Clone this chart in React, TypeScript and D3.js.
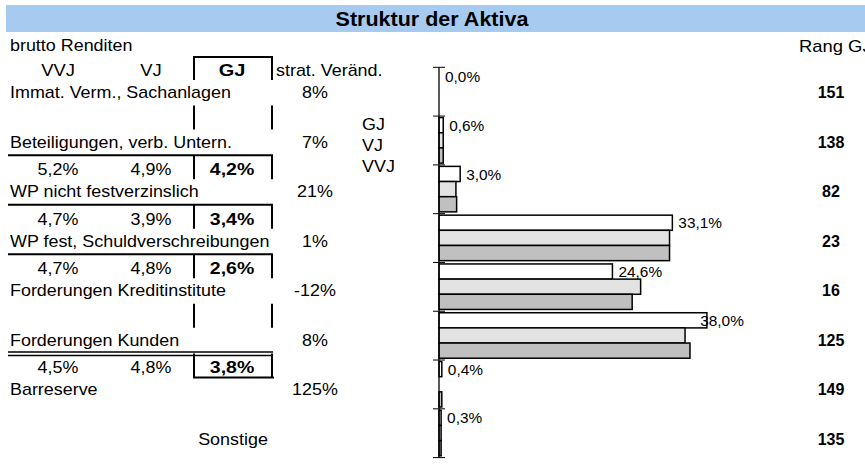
import React from 'react';
import * as d3 from 'd3';

// chart data
const categories = [
  'Immat. Verm., Sachanlagen',
  'Beteiligungen, verb. Untern.',
  'WP nicht festverzinslich',
  'WP fest, Schuldverschreibungen',
  'Forderungen Kreditinstitute',
  'Forderungen Kunden',
  'Barreserve',
  'Sonstige',
];
const seriesNames = ['GJ', 'VJ', 'VVJ'];
const shareGJ = [0.0, 0.6, 3.0, 33.1, 24.6, 38.0, 0.4, 0.3];
const shareVJ = [0.0, 0.6, 2.4, 32.7, 28.6, 34.9, 0.0, 0.3];
const shareVVJ = [0.0, 0.6, 2.5, 32.7, 27.4, 35.6, 0.4, 0.3];
const stratChange = ['8%', '7%', '21%', '1%', '-12%', '8%', '125%', null];
const rangGJ = [151, 138, 82, 23, 16, 125, 149, 135];
// brutto Renditen, shown in the row above each category
const yieldVVJ = [null, null, 5.2, 4.7, 4.7, null, 4.5, null];
const yieldVJ = [null, null, 4.9, 3.9, 4.8, null, 4.8, null];
const yieldGJ = [null, null, 4.2, 3.4, 2.6, null, 3.8, null];
const headerCols = ['VVJ', 'VJ', 'GJ'];

// table borders above each category row
const separators = [null, null, 'single', 'single', 'single', null, 'double', null];

const W = 865;
const H = 469;
const FONT = '"Liberation Sans", Arial, sans-serif';
const fills = { GJ: '#ffffff', VJ: '#e3e3e3', VVJ: '#c0c0c0' };

const de = d3.formatLocale({ decimal: ',', thousands: '.', grouping: [3], currency: ['', ' €'] });
const pct = (v) => de.format('.1f')(v) + '%';

const T = ({ x, y, size = 16, sx = 1.12, anchor = 'start', bold = false, children }) => (
  <text
    transform={`translate(${x},${y}) scale(${sx},1)`}
    fontSize={size}
    textAnchor={anchor}
    fontWeight={bold ? 'bold' : 'normal'}
    fill="#000"
  >
    {children}
  </text>
);

const App = () => {
  // table rows
  const yRow = d3.scaleLinear().domain([0, categories.length - 1]).range([98, 445]);
  const colX = d3.scaleOrdinal().domain(headerCols).range([58, 151, 232]);
  const gjLeft = 194;
  const gjRight = 272;
  const tableLeft = 8;

  // bar chart
  const x = d3.scaleLinear().domain([0, 60]).range([439, 862]);
  const y = d3.scaleBand().domain(categories).range([67.3, 457.6]);
  const yInner = d3.scaleBand().domain(seriesNames).range([1.5, y.bandwidth() - 1.8]);
  const legendY = d3.scaleLinear().domain([0, seriesNames.length - 1]).range([130, 172]);
  const labelCap = 36.2;

  const series = { GJ: shareGJ, VJ: shareVJ, VVJ: shareVVJ };
  const tickYs = d3.range(categories.length + 1).map(i => y.range()[0] + i * y.step());

  return (
    <svg width={W} height={H} style={{ position: 'absolute', left: 0, top: 0 }} fontFamily={FONT}>
      <rect x={0} y={0} width={W} height={H} fill="#fff" />
      {/* title */}
      <rect x={6} y={5} width={W - 6} height={27} fill="#a6caf0" />
      <T x={432} y={26} size={20.5} sx={1.05} anchor="middle" bold>Struktur der Aktiva</T>
      <T x={10} y={51}>brutto Renditen</T>
      <T x={799} y={52} sx={1.15}>Rang GJ</T>

      {/* header row */}
      {headerCols.map(c => (
        <T key={c} x={colX(c)} y={yRow(0) - 22} anchor="middle" bold={c === 'GJ'} sx={c === 'GJ' ? 1.25 : 1.15}>{c}</T>
      ))}
      <T x={276} y={yRow(0) - 22}>strat. Veränd.</T>
      <line x1={gjLeft - 1} x2={gjRight + 1} y1={yRow(0) - 41} y2={yRow(0) - 41} stroke="#000" strokeWidth={2} />

      {/* GJ column box, one segment per row above a category */}
      {categories.slice(0, 7).map((c, i) => (
        <g key={'box' + i} stroke="#000" strokeWidth={2}>
          <line x1={gjLeft} x2={gjLeft} y1={yRow(i) - 42} y2={yRow(i) - 18} />
          <line x1={gjRight} x2={gjRight} y1={yRow(i) - 42} y2={yRow(i) - 18} />
        </g>
      ))}
      <line x1={gjLeft - 1} x2={gjRight + 2} y1={yRow(6) - 18} y2={yRow(6) - 18} stroke="#000" strokeWidth={2} />

      {/* separators */}
      {separators.map((s, i) => {
        if (!s) return null;
        const yy = yRow(i) - 42;
        if (s === 'double') {
          return (
            <g key={'sep' + i} stroke="#000" strokeWidth={1.4}>
              <line x1={tableLeft} x2={gjRight + 1} y1={yy - 1.5} y2={yy - 1.5} />
              <line x1={tableLeft} x2={gjRight + 1} y1={yy + 2} y2={yy + 2} />
            </g>
          );
        }
        return <line key={'sep' + i} x1={tableLeft} x2={gjRight + 1} y1={yy} y2={yy} stroke="#000" strokeWidth={2} />;
      })}

      {/* yields */}
      {categories.map((c, i) => (
        yieldGJ[i] == null ? null : (
          <g key={'yl' + i}>
            <T x={colX('VVJ')} y={yRow(i) - 22} anchor="middle">{pct(yieldVVJ[i])}</T>
            <T x={colX('VJ')} y={yRow(i) - 22} anchor="middle">{pct(yieldVJ[i])}</T>
            <T x={colX('GJ')} y={yRow(i) - 22} anchor="middle" bold sx={1.22}>{pct(yieldGJ[i])}</T>
          </g>
        )
      ))}

      {/* category names, strat. change, rank */}
      {categories.map((c, i) => (
        <g key={'nm' + i}>
          {i === categories.length - 1
            ? <T x={233} y={yRow(i)} anchor="middle">{c}</T>
            : <T x={10} y={yRow(i)}>{c}</T>}
          {stratChange[i] && <T x={315} y={yRow(i)} anchor="middle">{stratChange[i]}</T>}
          <T x={831} y={yRow(i)} anchor="middle" bold size={16} sx={1.0}>{rangGJ[i]}</T>
        </g>
      ))}

      {/* legend */}
      {seriesNames.map((s, k) => (
        <T key={'lg' + s} x={362} y={legendY(k)}>{s}</T>
      ))}

      {/* bars */}
      {categories.map((c, i) => (
        <g key={'bars' + i} transform={`translate(0,${y(c)})`}>
          {seriesNames.map(s => {
            const w = x(series[s][i]) - x(0);
            return w > 0 ? (
              <rect key={s} x={x(0)} y={yInner(s)} width={w} height={yInner.bandwidth()}
                fill={fills[s]} stroke="#000" strokeWidth={1.5} />
            ) : null;
          })}
          <T x={Math.min(x(shareGJ[i]), x(labelCap)) + 6} y={yInner('GJ') + yInner.bandwidth() - 2}
            size={14} sx={1.1}>{pct(shareGJ[i])}</T>
        </g>
      ))}

      {/* axis */}
      <line x1={x(0)} x2={x(0)} y1={y.range()[0]} y2={y.range()[1]} stroke="#000" strokeWidth={1.3} />
      {tickYs.map((ty, i) => (
        <line key={'tk' + i} x1={x(0) - 6} x2={x(0) + 6} y1={ty} y2={ty} stroke="#000" strokeWidth={1} />
      ))}
    </svg>
  );
};

export default App;
